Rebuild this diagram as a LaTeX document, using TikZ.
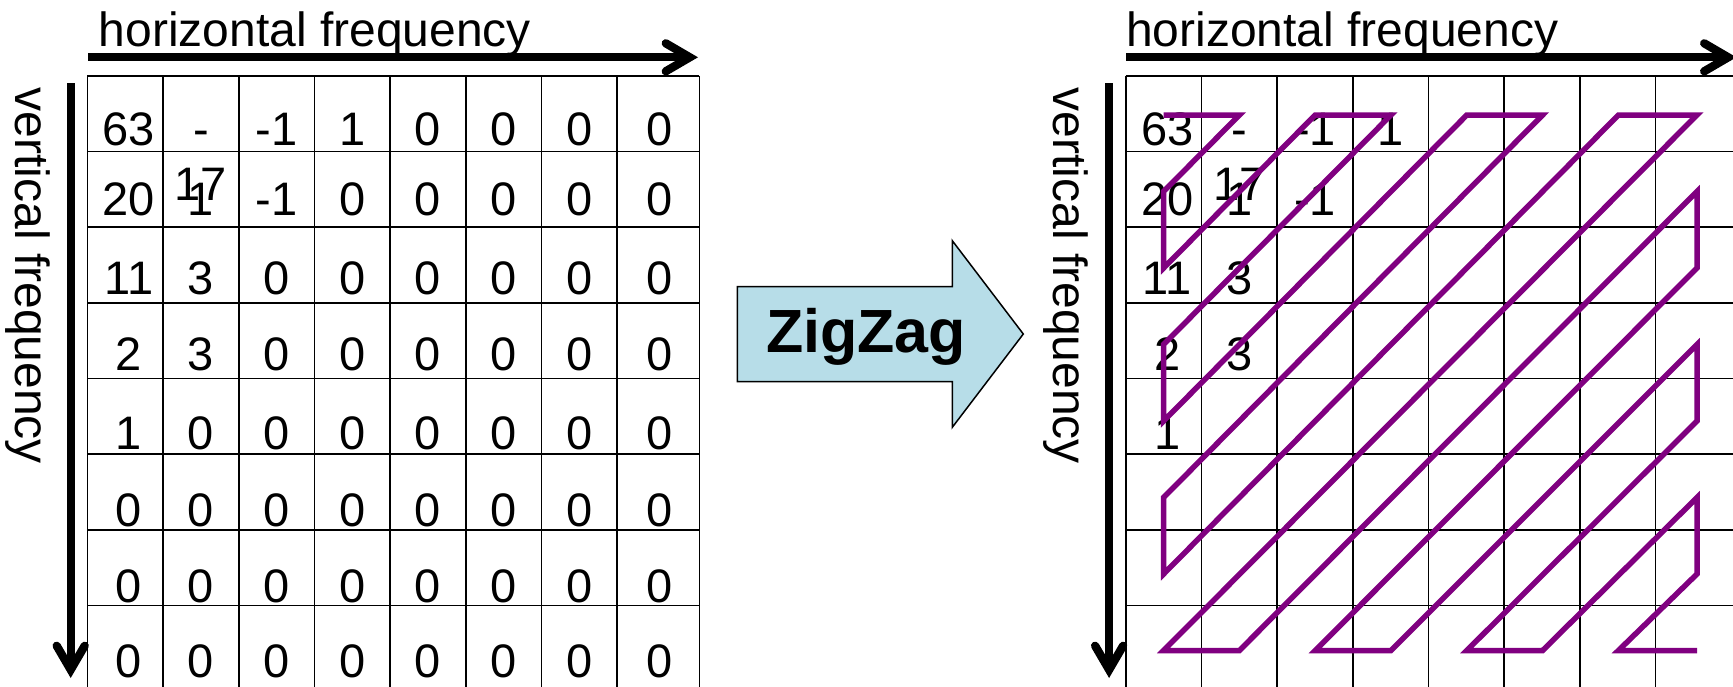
\documentclass[tikz,border=0pt]{standalone}
\usepackage{fontspec}
\setmainfont{Liberation Sans}
\usetikzlibrary{arrows.meta}

\definecolor{zzpurple}{RGB}{128,0,128}
\definecolor{zzblue}{RGB}{183,221,232}

\newcommand{\twoline}[2]{\begin{tabular}[t]{@{}c@{}}#1\\#2\end{tabular}}

\begin{document}
\begin{tikzpicture}[
        x=1pt, y=-1pt,
        gridline/.style={draw, line width=1.6pt},
        axis/.style={draw, line width=8.3pt, -{Straight Barb[length=24pt, width=28pt, line cap=round, line join=miter]}},
        axislabel/.style={inner sep=0pt, font=\fontsize{48}{58}\selectfont},
        entry/.style={inner sep=0pt, anchor=base, font=\fontsize{47}{55}\selectfont},
        scan/.style={draw=zzpurple, line width=5.5pt, line join=miter},
        bigarrow/.style={draw, line width=1.5pt, fill=zzblue}
    ]
    \useasboundingbox (0,0) rectangle (1733,686);
    \clip (0,0) rectangle (1733,686);

    \foreach \side/\dx in {L/0, R/1038.4} {
        \begin{scope}[xshift=\dx pt]
            \foreach \k in {0,...,7} {
                \draw[gridline] (87.3,75.7+75.7*\k) -- (699.3,75.7+75.7*\k);
                \draw[gridline] (87.3+75.7*\k,75.7) -- (87.3+75.7*\k,690);
            }
            \draw[gridline] (699.3,75.7) -- (699.3,690);
            \coordinate (\side-h0) at (88,57.3);
            \coordinate (\side-h1) at (698,57.3);
            \coordinate (\side-v0) at (70.7,83);
            \coordinate (\side-v1) at (70.7,678);
            \draw[axis] (\side-h0) -- (\side-h1);
            \draw[axis] (\side-v0) -- (\side-v1);
            \node[axislabel, rotate=-90, anchor=base west] (\side-vlabel) at (15,87.5) {vertical frequency};
        \end{scope}
    }
    \node[axislabel, anchor=base west] (L-hlabel) at (98.5,46) {horizontal frequency};
    \node[axislabel, anchor=base west] (R-hlabel) at (1126,46) {horizontal frequency};

    \foreach \r/\by/\vals in {
            0/145/{63,{\twoline{-}{17}},-1,1,0,0,0,0},
            1/215/{20,1,-1,0,0,0,0,0},
            2/294/{11,3,0,0,0,0,0,0},
            3/370/{2,3,0,0,0,0,0,0},
            4/449.5/{1,0,0,0,0,0,0,0},
            5/526.5/{0,0,0,0,0,0,0,0},
            6/602.5/{0,0,0,0,0,0,0,0},
            7/677.5/{0,0,0,0,0,0,0,0}} {
        \foreach \v [count=\c from 0] in \vals {
            \pgfmathsetmacro\cx{\c==0 ? 128.8 : (\c<7 ? 125.2+75.7*\c : 659.5)}
            \node[entry] (L-\r-\c) at (\cx,\by) {\v};
        }
    }

    \begin{scope}[xshift=1038.4pt]
        \foreach \r/\by/\vals in {
                0/145/{63,{\twoline{-}{17}},-1,1},
                1/215/{20,1,-1},
                2/294/{11,3},
                3/370/{2,3},
                4/449.5/{1}} {
            \foreach \v [count=\c from 0] in \vals {
                \pgfmathsetmacro\cx{\c==0 ? 128.8 : 125.2+75.7*\c}
                \node[entry] (R-\r-\c) at (\cx,\by) {\v};
            }
        }
    \end{scope}

    \foreach \r in {0,...,7} {
        \foreach \c in {0,...,7} {
            \pgfmathsetmacro\zx{\c<7 ? 1163.6+75.8*\c : 1697}
            \pgfmathsetmacro\zy{115+76.5*\r}
            \coordinate (Z-\r-\c) at (\zx,\zy);
        }
    }
    \draw[scan] (Z-0-0) -- (Z-0-1) -- (Z-1-0) -- (Z-2-0) -- (Z-0-2) -- (Z-0-3)
        -- (Z-3-0) -- (Z-4-0) -- (Z-0-4) -- (Z-0-5) -- (Z-5-0) -- (Z-6-0)
        -- (Z-0-6) -- (Z-0-7) -- (Z-7-0) -- (Z-7-1) -- (Z-1-7) -- (Z-2-7)
        -- (Z-7-2) -- (Z-7-3) -- (Z-3-7) -- (Z-4-7) -- (Z-7-4) -- (Z-7-5)
        -- (Z-5-7) -- (Z-6-7) -- (Z-7-6) -- (Z-7-7);

    \draw[bigarrow] (737.3,286.7) -- (952.3,286.7) -- (952.3,240.7) -- (1023.3,334)
        -- (952.3,427.3) -- (952.3,381.7) -- (737.3,381.7) -- cycle;
    \node[inner sep=0pt, anchor=base, font=\bfseries\fontsize{61}{72}\selectfont] (zigzag) at (866,352) {ZigZag};
\end{tikzpicture}
\end{document}
